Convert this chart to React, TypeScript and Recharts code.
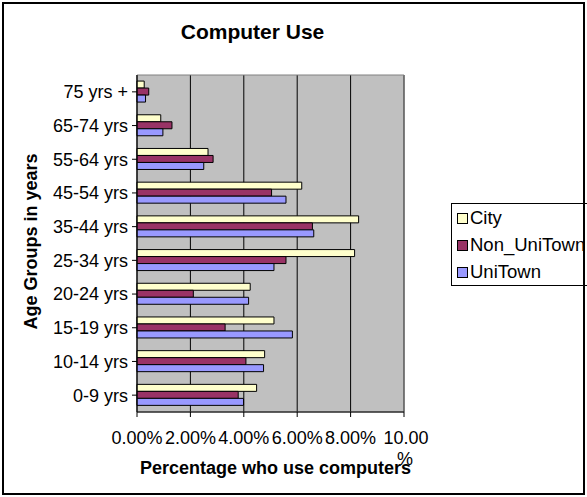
import React from 'react';
import {
  BarChart,
  Bar,
  XAxis,
  YAxis,
  CartesianGrid,
  ReferenceArea,
  Label,
} from 'recharts';

const ageGroups = [
  '75 yrs +',
  '65-74 yrs',
  '55-64 yrs',
  '45-54 yrs',
  '35-44 yrs',
  '25-34 yrs',
  '20-24 yrs',
  '15-19 yrs',
  '10-14 yrs',
  '0-9 yrs',
];
const city = [0.27, 0.89, 2.66, 6.17, 8.3, 8.15, 4.24, 5.13, 4.78, 4.48];
const nonUniTown = [0.44, 1.31, 2.85, 5.04, 6.57, 5.58, 2.11, 3.3, 4.08, 3.79];
const uniTown = [0.32, 0.97, 2.5, 5.58, 6.62, 5.13, 4.18, 5.82, 4.74, 3.99];
const xTicks = [0, 2, 4, 6, 8, 10];

const series = [
  { key: 'City', fill: '#FFFFCC' },
  { key: 'Non_UniTown', fill: '#993366' },
  { key: 'UniTown', fill: '#9999FF' },
];

const FONT = '"Liberation Sans", Arial, sans-serif';

const data = ageGroups.map((age, i) => ({
  age,
  City: city[i],
  Non_UniTown: nonUniTown[i],
  UniTown: uniTown[i],
}));

const XTick = (props: any) => {
  const { x, y, payload } = props;
  const txt = payload.value.toFixed(2) + '%';
  // the last label wraps like in the original
  if (payload.value >= 10) {
    return (
      <text x={x} y={y} textAnchor="middle" fontSize={18} fontFamily={FONT} fill="#000">
        <tspan x={x + 2} dy="0.71em">{txt.slice(0, -1)}</tspan>
        <tspan x={x + 1} dy="1.2em">%</tspan>
      </text>
    );
  }
  return (
    <text x={x} y={y} dy="0.71em" textAnchor="middle" fontSize={18} fontFamily={FONT} fill="#000">
      {txt}
    </text>
  );
};

export default function App() {
  return (
    <div
      style={{
        position: 'absolute',
        left: 0,
        top: 0,
        width: 587,
        height: 497,
        background: '#fff',
        fontFamily: FONT,
        overflow: 'hidden',
      }}
    >
      <div
        style={{
          position: 'absolute',
          left: 0,
          top: 20,
          width: 505,
          textAlign: 'center',
          fontWeight: 'bold',
          fontSize: 21,
        }}
      >
        Computer Use
      </div>
      <BarChart
        width={587}
        height={497}
        data={data}
        layout="vertical"
        margin={{ top: 75, right: 183, bottom: 45, left: 0 }}
        barCategoryGap="18%"
        barGap={0}
        style={{ position: 'absolute', left: 0, top: 0 }}
      >
        <CartesianGrid fill="#C0C0C0" stroke="#000" horizontal={false} />
        <ReferenceArea x1={0} x2={10} stroke="#808080" fill="none" ifOverflow="visible" />
        <XAxis
          type="number"
          domain={[0, 10]}
          ticks={xTicks}
          height={40}
          tickSize={5}
          tickMargin={14}
          tick={<XTick />}
          axisLine={{ stroke: '#000' }}
          tickLine={{ stroke: '#000' }}
        >
          <Label
            content={({ viewBox }: any) => (
              <text
                x={viewBox.x + viewBox.width / 2 + 5}
                y={viewBox.y + 56}
                textAnchor="middle"
                dominantBaseline="central"
                fontWeight="bold"
                fontSize={18}
                fontFamily={FONT}
                fill="#000"
              >
                Percentage who use computers
              </text>
            )}
          />
        </XAxis>
        <YAxis
          type="category"
          dataKey="age"
          width={137}
          tickSize={5}
          tickMargin={4}
          tick={{ fontSize: 18, fill: '#000', fontFamily: FONT }}
          axisLine={{ stroke: '#000' }}
          tickLine={{ stroke: '#000' }}
        >
          <Label
            content={({ viewBox }: any) => {
              const cx = viewBox.x + 31;
              const cy = viewBox.y + viewBox.height / 2 - 2;
              return (
                <text
                  x={cx}
                  y={cy}
                  transform={`rotate(-90 ${cx} ${cy})`}
                  textAnchor="middle"
                  dominantBaseline="central"
                  fontWeight="bold"
                  fontSize={18}
                  fontFamily={FONT}
                  fill="#000"
                >
                  Age Groups in years
                </text>
              );
            }}
          />
        </YAxis>
        {series.map((s) => (
          <Bar
            key={s.key}
            dataKey={s.key}
            fill={s.fill}
            stroke="#000"
            strokeWidth={1}
            isAnimationActive={false}
          />
        ))}
      </BarChart>
      <div
        style={{
          position: 'absolute',
          left: 451,
          top: 203,
          width: 160,
          height: 83,
          border: '1px solid #000',
          boxSizing: 'border-box',
          background: '#fff',
          fontSize: 18.5,
        }}
      >
        {series.map((s, i) => (
          <div
            key={s.key}
            style={{
              position: 'absolute',
              left: 5,
              top: 3 + i * 27,
              height: 22,
              display: 'flex',
              alignItems: 'center',
              whiteSpace: 'nowrap',
            }}
          >
            <span
              style={{
                display: 'inline-block',
                width: 9,
                height: 9,
                background: s.fill,
                border: '1px solid #000',
                marginRight: 2,
              }}
            />
            {s.key}
          </div>
        ))}
      </div>
      <div
        style={{
          position: 'absolute',
          left: 2,
          top: 2,
          width: 583,
          height: 493,
          border: '2px solid #000',
          boxSizing: 'border-box',
          pointerEvents: 'none',
        }}
      />
    </div>
  );
}
